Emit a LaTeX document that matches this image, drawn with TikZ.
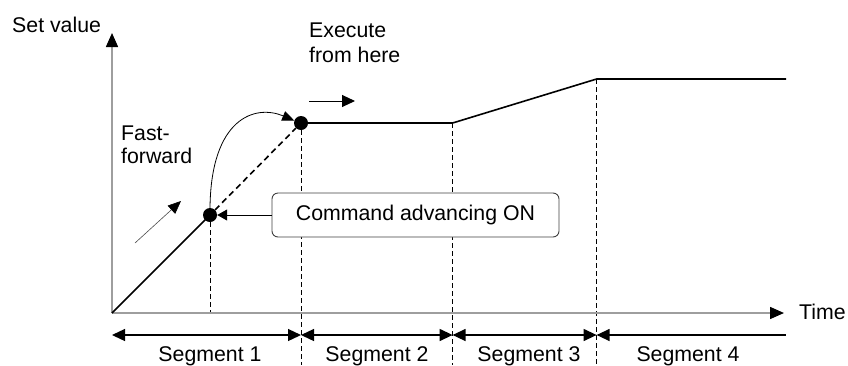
\documentclass[tikz,border=0pt]{standalone}
\usepackage{fontspec}
\setmainfont{Liberation Sans}
\usetikzlibrary{arrows.meta}
\begin{document}
\begin{tikzpicture}[x=1pt,y=-1pt,
  font=\fontsize{21.3}{25}\selectfont,
  bigtip/.tip={Triangle[length=13pt,width=12pt]},
  axis/.style={line width=1.5pt,color=black!38,-{Triangle[length=14pt,width=12pt,color=black]}},
  mainline/.style={line width=1.6pt,black},
  vdash/.style={line width=0.9pt,black,dash pattern=on 5pt off 3pt},
  seg/.style={line width=1.3pt,black},
  dot/.style={circle,fill=black,inner sep=0pt,minimum size=14pt},
  cbox/.style={draw=black!75,line width=0.9pt,fill=white,rounded corners=6pt,minimum width=287pt,minimum height=44pt,inner sep=0pt},
  txt/.style={inner sep=0pt,anchor=base west,align=left},
  labl/.style={inner sep=0pt,anchor=base}]
\useasboundingbox (0,0) rectangle (848,365);
% key points
\coordinate (O) at (112,313);
\coordinate (Ytip) at (112,33);
\coordinate (Xtip) at (784,313);
\node[dot] (A) at (210,215) {};
\node[dot] (B) at (301,123) {};
\coordinate (C) at (452.6,123);
\coordinate (D) at (596.6,79);
\coordinate (E) at (786,79);
\coordinate (bot) at (0,365);
\coordinate (s0) at (112,335);
\coordinate (s4) at (786,335);
% vertical dashed guides
\draw[vdash] (A) -- (A |- O);
\draw[vdash] (B) -- (B |- bot);
\draw[vdash] (C) -- (C |- bot);
\draw[vdash] (D) -- (D |- bot);
% axes
\draw[axis] (O) -- (Ytip);
\draw[axis] (O) -- (Xtip);
% profile
\draw[mainline] (O) -- (A.center);
\draw[mainline,dash pattern=on 6pt off 4pt] (A) -- (B);
\draw[mainline] (B.center) -- (C) -- (D) -- (E);
% command box
\node[cbox] (cmd) at (415.5,215) {Command advancing ON};
\draw[line width=1pt,-{Triangle[length=10pt,width=11pt]}] (cmd.west) -- (A);
% fast-forward jump arrow
\draw[line width=0.8pt,-{Triangle[length=12pt,width=10pt]}] (A.north) .. controls (211,118) and (255,104) .. (B.160);
% segment arrows
\draw[seg,{bigtip}-{bigtip}] (s0) -- (B |- s0);
\draw[seg,{bigtip}-{bigtip}] (B |- s0) -- (C |- s0);
\draw[seg,{bigtip}-{bigtip}] (C |- s0) -- (D |- s0);
\draw[seg,{bigtip}-] (D |- s0) -- (s4);
% labels
\node[txt] (sv) at (12,32) {Set value};
\node[txt] (tm) at (799,319) {Time};
\node[txt] (ex) at (309,62) {Execute\\from here};
\node[txt,font=\fontsize{21.3}{23}\selectfont] (ff) at (121,163) {Fast-\\forward};
\coordinate (ex1) at (309,101);
\coordinate (ex2) at (355,101);
\draw[line width=1pt,-{Triangle[length=13pt,width=12pt]}] (ex1) -- (ex2);
\coordinate (ff1) at (135,243);
\coordinate (ff2) at (181,201);
\draw[line width=0.6pt,black!70,-{Triangle[length=13pt,width=11pt,color=black]}] (ff1) -- (ff2);
\node[labl] (l1) at (210,361) {Segment 1};
\node[labl] (l2) at (377,361) {Segment 2};
\node[labl] (l3) at (529,361) {Segment 3};
\node[labl] (l4) at (688,361) {Segment 4};
\end{tikzpicture}
\end{document}
